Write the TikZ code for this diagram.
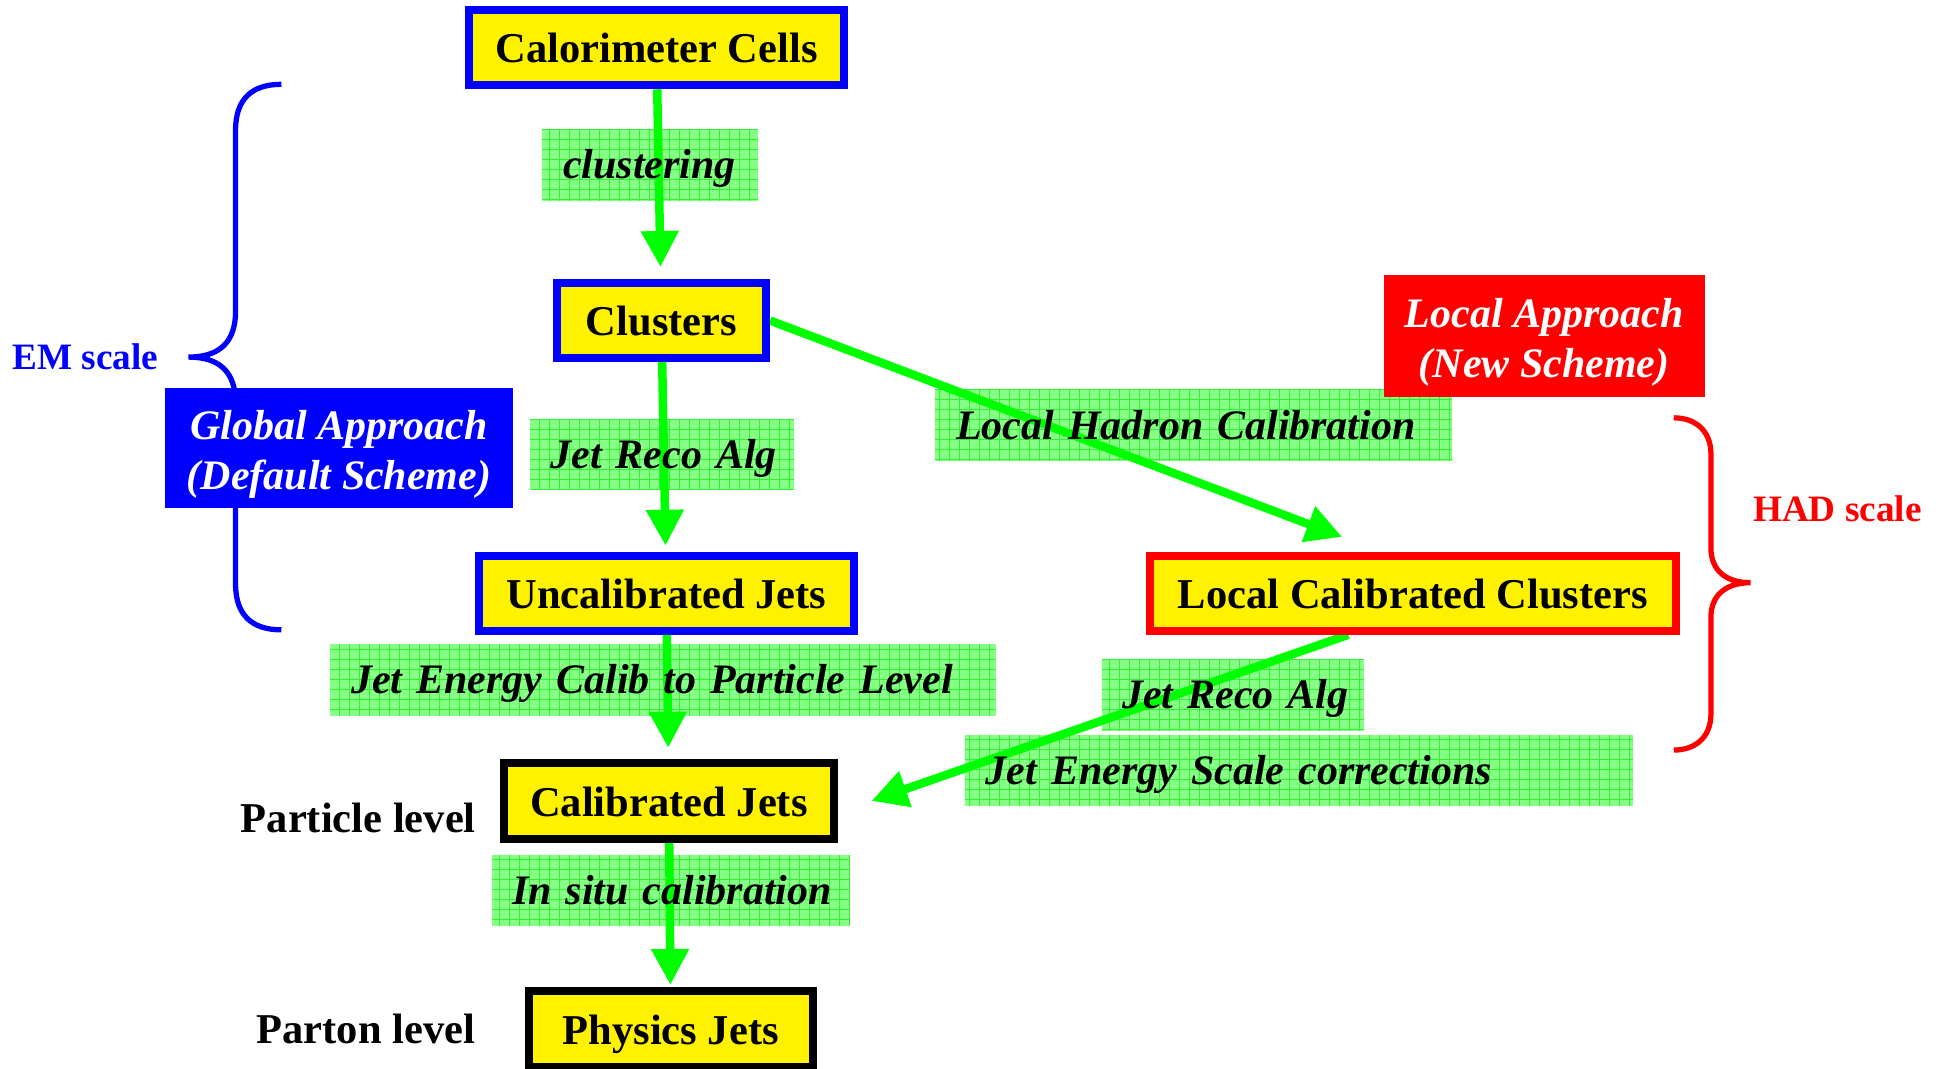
\documentclass[tikz,border=0pt]{standalone}
\usepackage{fontspec}
\setmainfont{Liberation Serif}
\usetikzlibrary{arrows.meta,calc}

\definecolor{flowgreen}{RGB}{0,255,0}
\definecolor{gridbg}{RGB}{135,255,135}
\definecolor{gridln}{RGB}{50,240,50}

\newcommand\boxfont{\fontsize{12.1pt}{14.3pt}\selectfont\bfseries}
\newcommand\lblfont{\fontsize{11.95pt}{14.3pt}\selectfont\bfseries\itshape}
\newcommand\sidefont{\fontsize{10.6pt}{12pt}\selectfont\bfseries}

\pgfdeclarelayer{bg}
\pgfdeclarelayer{mid}
\pgfsetlayers{bg,mid,main}

\tikzset{stage/.style={draw=#1, fill=yellow, line width=2.3pt, outer sep=1.15pt,
        inner sep=0pt, minimum height=0.75cm, font=\boxfont,
        text height=0.9em, text depth=0.04em},
    approach/.style={fill=#1, text=white, font=\lblfont, align=center, inner sep=0pt,
        text height=23.6pt, text depth=0pt},
    lbl/.style={text width=#1, align=left, inner xsep=0.2cm, inner ysep=0pt,
        minimum height=0.7cm, font=\lblfont, text height=0.95em, text depth=0.16em},
    flow/.style={draw=flowgreen, line width=0.085cm,
        -{Triangle[width=0.36cm,length=0.36cm]}},
    scalebrace/.style={draw=#1, line width=1.5pt},
    }

\begin{document}
\begin{tikzpicture}[x=0.0124cm,y=-0.0124cm]
\useasboundingbox (0,0) rectangle (1568,862);

\draw[scalebrace=blue] (227,68) .. controls (203,68) and (190,80) .. (190,105) -- (190,251)
    .. controls (190,276) and (177,288) .. (152,288) .. controls (177,288) and (190,300) .. (190,325)
    -- (190,471) .. controls (190,496) and (203,508) .. (227,508);
\draw[scalebrace=red] (1350,337) .. controls (1368,337) and (1380,348) .. (1380,366) -- (1380,442)
    .. controls (1380,460) and (1392,470) .. (1412,470) .. controls (1392,470) and (1380,480) .. (1380,498)
    -- (1380,576) .. controls (1380,594) and (1368,605) .. (1350,605);

\node[stage=blue, minimum width=3.751cm] (calo) at (529.5,38.5) {Calorimeter Cells};
\node[stage=blue, minimum width=2.089cm] (clus) at (533.5,258.5) {Clusters};
\node[stage=blue, minimum width=3.751cm] (uncal) at (537.5,478.5) {Uncalibrated Jets};
\node[stage=red, minimum width=5.263cm] (lcc) at (1139.5,478.5) {Local Calibrated Clusters};
\node[stage=black, minimum width=3.304cm, minimum height=0.762cm] (cal) at (539.5,646) {Calibrated Jets};
\node[stage=black, minimum width=2.845cm, minimum height=0.762cm] (phys) at (541,830) {Physics Jets};

\node[approach=blue, minimum width=3.484cm, minimum height=1.203cm] (global) at (273.5,361.5)
    {Global Approach\\(Default Scheme)};
\node[approach=red, minimum width=3.212cm, minimum height=1.215cm] (local) at (1245.5,271)
    {Local Approach\\(New Scheme)};

\node[font=\sidefont, text=blue] (emscale) at (69,288) {EM scale};
\node[font=\sidefont, text=red] (hadscale) at (1482,410) {HAD scale};
\node[font=\boxfont] (partlvl) at (289,660) {Particle level};
\node[font=\boxfont] (partonlvl) at (295,830) {Parton level};

\node[lbl=1.745cm] (lclust) at (524.5,133) {\mbox{clustering}};
\node[lbl=4.758cm] (lhadron) at (963,343) {\mbox{Local Hadron Calibration}};
\node[lbl=2.229cm] (lreco) at (534,366.5) {\mbox{Jet Reco Alg}};
\node[lbl=6.246cm] (lcalib) at (535,548.5) {\mbox{Jet Energy Calib to Particle Level}};
\node[lbl=2.216cm] (lrecoloc) at (994.5,560.5) {\mbox{Jet Reco Alg}};
\node[lbl=6.271cm] (ljes) at (1048,621.5) {\mbox{Jet Energy Scale corrections}};
\node[lbl=3.171cm] (lsitu) at (541,718.5) {\mbox{In situ calibration}};

\begin{pgfonlayer}{bg}
\foreach \n in {lclust,lhadron,lreco,lcalib,lrecoloc,ljes,lsitu}{
    \fill[gridbg] (\n.south west) rectangle (\n.north east);
    \draw[gridln, line width=0.25pt, step=0.1cm] (\n.south west) grid (\n.north east);
}
\end{pgfonlayer}

\begin{pgfonlayer}{mid}
\draw[flow, shorten >=0.12cm] (calo) -- (clus);
\draw[flow, shorten >=0.06cm] (clus) -- (uncal);
\draw[flow] (clus.east) -- ($(lcc.north)+(-57,-12)$);
\draw[flow, shorten >=0.11cm] (uncal) -- (cal);
\draw[flow] ($(lcc.south)+(-52,0)$) -- ($(cal.east)+(27,0)$);
\draw[flow, shorten >=0.02cm] (cal) -- (phys);
\end{pgfonlayer}
\end{tikzpicture}
\end{document}
